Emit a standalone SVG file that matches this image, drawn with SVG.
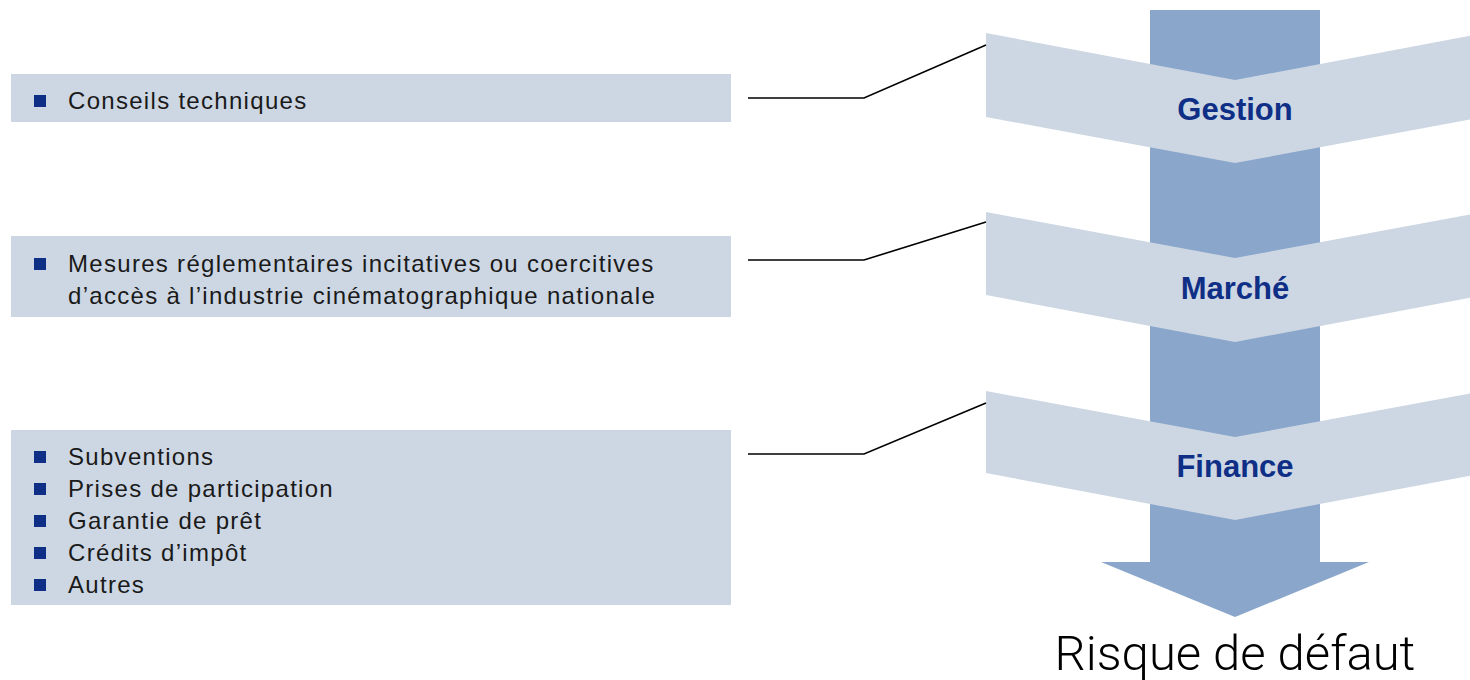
<svg xmlns="http://www.w3.org/2000/svg" width="1470" height="680" viewBox="0 0 1470 680">
<style>
.box{fill:#cdd7e3}
.chev{fill:#cdd7e3}
.shaft{fill:#8aa6cb}
.t{font-family:"Liberation Sans",Arial,sans-serif;font-size:24px;letter-spacing:1.3px;fill:#1a1a1a}
.lbl{font-family:"Liberation Sans",Arial,sans-serif;font-size:31px;font-weight:bold;fill:#0f2f87;text-anchor:middle}
.bul{fill:#0f2f87}
.con{fill:none;stroke:#000;stroke-width:1.6}
.big{font-family:Roboto,"Liberation Sans",sans-serif;font-weight:300;font-size:49px;fill:#000;text-anchor:middle}
</style>
<g id="flow">
<rect class="shaft" x="1150" y="10" width="170" height="553"/>
<polygon class="shaft" points="1101,562 1369,562 1235,617"/>
</g>
<g id="gestion">
<polygon class="chev" points="986,33 1235,80 1484,33 1484,117 1235,163 986,117"/>
<text class="lbl" x="1235" y="120">Gestion</text>
</g>
<g id="marche">
<polygon class="chev" points="986,212 1235,258 1484,212 1484,295 1235,342 986,295"/>
<text class="lbl" x="1235" y="299">Marché</text>
</g>
<g id="finance">
<polygon class="chev" points="986,391 1235,437 1484,391 1484,473 1235,520 986,473"/>
<text class="lbl" x="1235" y="477">Finance</text>
</g>
<g id="risque">
<text class="big" x="1235" y="670">Risque de défaut</text>
</g>
<g id="box1">
<rect class="box" x="11" y="74" width="720" height="48"/>
<rect class="bul" x="34" y="95" width="12" height="12"/>
<text class="t" x="68" y="109">Conseils techniques</text>
</g>
<g id="box2">
<rect class="box" x="11" y="236" width="720" height="81"/>
<rect class="bul" x="34" y="258" width="12" height="12"/>
<text class="t" x="68" y="272">Mesures réglementaires incitatives ou coercitives</text>
<text class="t" x="68" y="304">d’accès à l’industrie cinématographique nationale</text>
</g>
<g id="box3">
<rect class="box" x="11" y="430" width="720" height="175"/>
<rect class="bul" x="34" y="451" width="12" height="12"/>
<text class="t" x="68" y="465">Subventions</text>
<rect class="bul" x="34" y="483" width="12" height="12"/>
<text class="t" x="68" y="497">Prises de participation</text>
<rect class="bul" x="34" y="515" width="12" height="12"/>
<text class="t" x="68" y="529">Garantie de prêt</text>
<rect class="bul" x="34" y="547" width="12" height="12"/>
<text class="t" x="68" y="561">Crédits d’impôt</text>
<rect class="bul" x="34" y="579" width="12" height="12"/>
<text class="t" x="68" y="593">Autres</text>
</g>
<g id="connectors">
<polyline class="con" points="748,98 864,98 986,45"/>
<polyline class="con" points="748,260 864,260 986,222"/>
<polyline class="con" points="748,454 864,454 986,403"/>
</g>
</svg>
